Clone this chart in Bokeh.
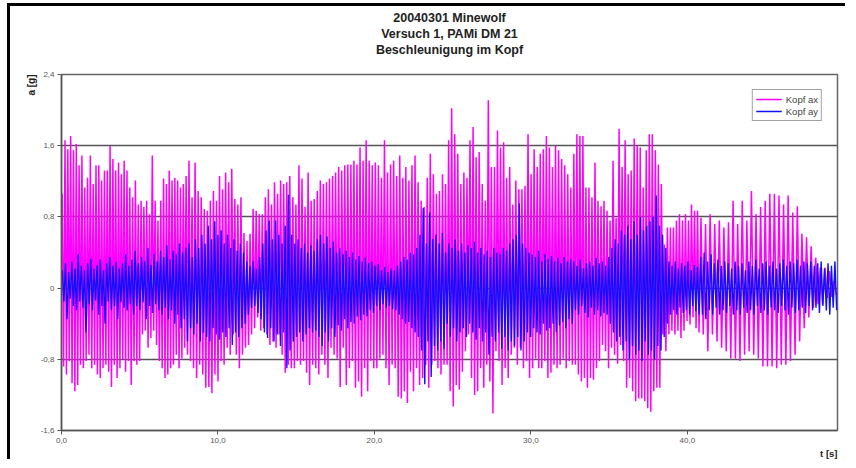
from bokeh.plotting import figure
from bokeh.models import Range1d, FixedTicker, Title, Legend
from bokeh.embed import file_html
from bokeh.resources import INLINE

# time boundaries of the read-off sections (s)
section_bounds = [0.0, 8.1, 16.3, 24.5, 32.7, 40.8, 49.6]

# Kopf ax (magenta): successive maxima / minima per section (g)
ax_max_s1 = [1.06, 1.66, 1.56, 1.71, 1.55, 1.62, 1.38, 1.49, 1.13, 1.24, 1.49, 1.17, 1.38, 1.38, 1.21,
             1.32, 1.32, 1.60, 1.45, 1.32, 1.41, 1.28, 1.43, 1.32, 1.13, 1.02, 1.21, 0.94, 0.98, 0.91,
             0.98, 0.83, 1.49, 0.98, 0.76, 0.98, 1.23, 1.17, 1.32, 1.21, 1.24, 1.21, 1.13, 1.17, 1.26]
ax_min_s1 = [-0.88, -0.97, -0.82, -1.07, -1.16, -1.09, -0.86, -0.90, -0.82, -0.75, -0.90, -0.86, -0.97,
             -1.01, -0.90, -0.86, -0.94, -1.11, -0.86, -1.01, -0.90, -0.80, -0.94, -0.82, -1.09, -0.82,
             -0.86, -0.82, -0.52, -0.48, -0.67, -0.56, -0.48, -0.64, -0.82, -0.90, -1.01, -0.97, -0.90,
             -0.86, -0.75, -0.90, -0.79, -0.67, -0.75]
ax_max_s2 = [1.43, 1.02, 1.41, 1.09, 1.02, 0.89, 0.87, 0.98, 1.09, 0.98, 1.26, 1.11, 1.30, 1.19, 1.34,
             1.00, 0.94, 1.02, 0.62, 0.53, 0.61, 0.89, 0.87, 0.83, 0.83, 1.02, 1.11, 0.94, 1.19, 1.06,
             1.21, 1.17, 1.19, 1.26, 1.02, 0.94, 1.38, 1.23, 0.91, 1.30, 0.98, 1.00]
ax_min_s2 = [-0.82, -0.90, -1.01, -0.86, -0.97, -1.12, -1.11, -1.18, -0.97, -1.05, -0.82, -0.86, -0.67,
             -0.75, -0.52, -0.75, -0.90, -0.75, -0.67, -0.64, -0.52, -0.45, -0.33, -0.48, -0.45, -0.52,
             -0.64, -0.60, -0.67, -0.52, -0.75, -0.95, -0.86, -0.90, -0.90, -0.82, -0.86, -0.82, -0.95,
             -1.09, -0.86, -0.90]
ax_max_s3 = [1.09, 1.21, 1.17, 1.19, 1.23, 1.26, 1.30, 1.36, 1.32, 1.38, 1.39, 1.39, 1.43, 1.39, 1.58,
             1.43, 1.66, 1.43, 1.38, 1.41, 1.38, 1.24, 1.66, 1.30, 1.39, 1.43, 1.26, 1.49, 1.24, 1.36,
             1.21, 1.38, 1.49, 1.19, 0.98, 0.91, 1.24, 1.51, 1.28, 1.06, 1.09, 1.28]
ax_min_s3 = [-0.97, -0.75, -0.86, -1.01, -0.67, -0.75, -0.79, -1.11, -0.67, -1.09, -0.90, -0.82, -1.12,
             -1.05, -1.22, -0.90, -1.16, -0.82, -0.90, -0.90, -0.79, -0.75, -0.90, -1.09, -0.86, -0.90,
             -1.22, -1.24, -1.16, -1.29, -0.94, -1.16, -0.90, -1.09, -1.01, -0.86, -1.12, -0.86, -0.82,
             -0.90, -0.97, -0.86]
ax_max_s4 = [1.17, 1.66, 2.02, 1.73, 1.51, 1.17, 1.30, 1.24, 1.66, 1.81, 1.47, 1.53, 1.17, 0.98, 2.11,
             1.36, 1.36, 1.77, 1.58, 1.64, 1.24, 1.36, 0.94, 1.21, 1.11, 1.11, 1.15, 1.73, 1.28, 1.56,
             1.36, 1.51, 1.56, 1.71, 1.58, 1.36, 1.60, 1.55, 1.45, 1.38, 1.28, 1.13]
ax_min_s4 = [-0.86, -1.16, -1.33, -1.09, -1.14, -0.94, -0.71, -0.52, -1.01, -1.20, -1.16, -0.90, -1.12,
             -0.86, -1.05, -1.41, -0.71, -0.82, -1.09, -0.90, -1.01, -0.75, -0.67, -0.86, -0.67, -0.90,
             -0.82, -1.01, -0.90, -0.79, -0.90, -0.90, -0.82, -1.01, -0.95, -0.86, -0.90, -0.86, -0.79,
             -0.90, -0.82, -0.86]
ax_max_s5 = [1.51, 1.73, 1.71, 1.71, 1.13, 1.13, 1.02, 1.41, 0.98, 0.92, 0.98, 0.87, 0.76, 1.43, 0.79,
             1.79, 1.36, 1.66, 1.28, 1.32, 1.68, 1.60, 1.58, 1.13, 1.55, 1.73, 1.73, 1.55, 1.39, 1.17,
             0.49, 0.68, 0.68, 0.68, 0.76, 0.83, 0.76, 0.83, 0.76, 0.94, 0.87, 0.87]
ax_min_s5 = [-0.86, -0.97, -1.05, -1.01, -1.12, -1.01, -1.03, -0.90, -0.82, -0.64, -0.71, -0.90, -0.67,
             -0.75, -0.85, -0.64, -0.82, -1.12, -1.01, -1.16, -1.27, -1.24, -1.24, -1.27, -1.35, -1.39,
             -1.16, -1.12, -1.12, -0.52, -0.71, -0.52, -0.48, -0.52, -0.48, -0.56, -0.48, -0.37, -0.41,
             -0.33, -0.45, -0.50]
ax_max_s6 = [0.79, 0.72, 0.83, 0.72, 0.76, 0.68, 0.74, 0.98, 0.72, 0.98, 0.76, 1.09, 0.83, 0.91, 0.98,
             1.06, 1.06, 1.04, 0.94, 1.04, 0.85, 0.92, 0.61, 0.57, 0.47, 0.34, 0.23, 0.23, 0.19, 0.08]
ax_min_s6 = [-0.52, -0.71, -0.52, -0.60, -0.67, -0.71, -0.79, -0.79, -0.82, -0.75, -0.71, -0.75, -0.79,
             -0.88, -0.88, -0.88, -0.90, -0.86, -0.86, -0.82, -0.75, -0.60, -0.45, -0.33, -0.22, -0.18,
             -0.18, -0.11, -0.10, -0.08]

# Kopf ay (blue): successive maxima / minima per section (g)
ay_max_s1 = [0.20, 0.28, 0.18, 0.30, 0.22, 0.38, 0.25, 0.20, 0.28, 0.33, 0.22, 0.26, 0.32, 0.20, 0.28,
             0.35, 0.25, 0.30, 0.22, 0.28, 0.38, 0.25, 0.32, 0.42, 0.28, 0.35, 0.30, 0.45, 0.26, 0.38,
             0.30, 0.42, 0.35, 0.48, 0.32, 0.42, 0.38, 0.50, 0.40, 0.45]
ay_min_s1 = [-0.15, -0.35, -0.12, -0.20, -0.25, -0.15, -0.22, -0.50, -0.18, -0.25, -0.14, -0.30, -0.20,
             -0.40, -0.15, -0.25, -0.20, -0.35, -0.16, -0.22, -0.25, -0.18, -0.30, -0.20, -0.25, -0.16,
             -0.35, -0.20, -0.28, -0.18, -0.25, -0.30, -0.22, -0.35, -0.25, -0.40, -0.30, -0.45, -0.35,
             -0.60]
ay_max_s2 = [0.50, 0.35, 0.55, 0.45, 0.60, 0.50, 0.70, 0.55, 0.75, 0.60, 0.65, 0.50, 0.60, 0.45, 0.55,
             0.42, 0.50, 0.40, 0.30, 0.25, 0.30, 0.22, 0.35, 0.50, 0.65, 0.76, 0.55, 0.76, 0.60, 0.50,
             0.70, 1.05, 0.60, 0.50, 0.55, 0.45, 0.50, 0.40, 0.48, 0.42]
ay_min_s2 = [-0.45, -0.52, -0.40, -0.60, -0.50, -0.55, -0.60, -0.45, -0.52, -0.58, -0.50, -0.55, -0.45,
             -0.64, -0.50, -0.55, -0.45, -0.40, -0.30, -0.22, -0.20, -0.28, -0.35, -0.50, -0.56, -0.45,
             -0.60, -0.52, -0.65, -0.50, -0.90, -0.70, -0.60, -0.55, -0.50, -0.60, -0.52, -0.45, -0.50,
             -0.48]
ay_max_s3 = [0.55, 0.60, 0.50, 0.58, 0.45, 0.52, 0.40, 0.45, 0.38, 0.42, 0.35, 0.40, 0.32, 0.36, 0.30,
             0.34, 0.28, 0.30, 0.25, 0.27, 0.20, 0.24, 0.18, 0.22, 0.20, 0.25, 0.30, 0.35, 0.32, 0.40,
             0.38, 0.45, 0.60, 0.90, 0.50, 0.85, 0.55, 0.60, 0.50, 0.62]
ay_min_s3 = [-0.55, -0.65, -0.50, -0.60, -0.45, -0.55, -0.42, -0.48, -0.35, -0.45, -0.38, -0.40, -0.32,
             -0.36, -0.30, -0.32, -0.25, -0.28, -0.20, -0.25, -0.18, -0.22, -0.20, -0.24, -0.25, -0.30,
             -0.35, -0.40, -0.38, -0.45, -0.50, -0.55, -0.70, -1.08, -0.60, -1.00, -0.65, -0.70, -0.60,
             -0.68]
ay_max_s4 = [0.40, 0.50, 0.45, 0.55, 0.42, 0.50, 0.40, 0.48, 0.45, 0.52, 0.40, 0.45, 0.38, 0.42, 0.35,
             0.45, 0.40, 0.38, 0.45, 0.42, 0.50, 0.55, 0.60, 0.95, 0.50, 0.45, 0.40, 0.38, 0.35, 0.42,
             0.30, 0.38, 0.32, 0.36, 0.30, 0.34, 0.28, 0.35, 0.30, 0.32]
ay_min_s4 = [-0.40, -0.55, -0.45, -0.60, -0.50, -0.45, -0.55, -0.40, -0.50, -0.58, -0.45, -0.60, -0.50,
             -0.75, -0.55, -0.60, -0.50, -0.68, -0.55, -0.70, -0.60, -0.65, -0.55, -0.70, -0.60, -0.50,
             -0.55, -0.45, -0.50, -0.52, -0.40, -0.48, -0.45, -0.40, -0.50, -0.42, -0.38, -0.45, -0.35,
             -0.40]
ay_max_s5 = [0.30, 0.25, 0.32, 0.22, 0.28, 0.30, 0.25, 0.34, 0.28, 0.30, 0.25, 0.35, 0.45, 0.55, 0.50,
             0.65, 0.60, 0.70, 0.55, 0.75, 0.60, 0.80, 0.65, 0.70, 0.75, 0.80, 1.04, 0.70, 0.60, 0.45,
             0.30, 0.25, 0.30, 0.22, 0.28, 0.25, 0.30, 0.20, 0.26, 0.24]
ay_min_s5 = [-0.25, -0.30, -0.20, -0.28, -0.33, -0.22, -0.30, -0.25, -0.32, -0.28, -0.30, -0.40, -0.50,
             -0.60, -0.55, -0.70, -0.60, -0.80, -0.65, -0.75, -0.70, -0.82, -0.60, -0.75, -0.70, -0.80,
             -0.65, -0.70, -0.55, -0.40, -0.30, -0.25, -0.30, -0.22, -0.28, -0.25, -0.30, -0.20, -0.26,
             -0.30]
ay_max_s6 = [0.35, 0.40, 0.30, 0.38, 0.28, 0.32, 0.25, 0.30, 0.28, 0.22, 0.30, 0.25, 0.28, 0.20, 0.30,
             0.25, 0.32, 0.22, 0.28, 0.30, 0.25, 0.30, 0.22, 0.28, 0.32, 0.25, 0.30, 0.28, 0.32, 0.25,
             0.30, 0.28, 0.30, 0.25, 0.28, 0.30, 0.22, 0.28, 0.25, 0.30]
ay_min_s6 = [-0.30, -0.35, -0.25, -0.30, -0.22, -0.30, -0.25, -0.28, -0.20, -0.30, -0.25, -0.30, -0.22,
             -0.28, -0.25, -0.30, -0.20, -0.28, -0.25, -0.30, -0.22, -0.25, -0.28, -0.20, -0.25, -0.30,
             -0.22, -0.28, -0.25, -0.22, -0.28, -0.20, -0.25, -0.22, -0.28, -0.20, -0.25, -0.30, -0.22,
             -0.25]

y_ticks = [-1.6, -0.8, 0.0, 0.8, 1.6, 2.4]
y_tick_labels = ["-1,6", "-0,8", "0", "0,8", "1,6", "2,4"]
x_ticks = [0, 10, 20, 30, 40]
x_tick_labels = ["0,0", "10,0", "20,0", "30,0", "40,0"]

ax_sections = [(ax_max_s1, ax_min_s1), (ax_max_s2, ax_min_s2), (ax_max_s3, ax_min_s3),
               (ax_max_s4, ax_min_s4), (ax_max_s5, ax_min_s5), (ax_max_s6, ax_min_s6)]
ay_sections = [(ay_max_s1, ay_min_s1), (ay_max_s2, ay_min_s2), (ay_max_s3, ay_min_s3),
               (ay_max_s4, ay_min_s4), (ay_max_s5, ay_min_s5), (ay_max_s6, ay_min_s6)]


def build(sections):
    ts, vs = [], []
    for k, (mx, mn) in enumerate(sections):
        t0, t1 = section_bounds[k], section_bounds[k + 1]
        n = min(len(mx), len(mn))
        dt = (t1 - t0) / n
        for i in range(n):
            ts.append(t0 + (i + 0.25) * dt)
            vs.append(mx[i])
            ts.append(t0 + (i + 0.75) * dt)
            vs.append(mn[i])
    return ts, vs


ax_t, ax_v = build(ax_sections)
ay_t, ay_v = build(ay_sections)

p = figure(width=838, height=456, output_backend="svg", toolbar_location=None,
           x_range=Range1d(0, 49.6), y_range=Range1d(-1.6, 2.4),
           min_border_left=51, min_border_right=11, min_border_top=68, min_border_bottom=32)
p.styles = {"border-left": "3px solid #000000", "border-top": "3px solid #000000",
            "margin-left": "7px", "margin-top": "3px"}
p.background_fill_color = "white"
p.border_fill_color = "white"
p.outline_line_color = "#666666"
p.outline_line_width = 1.5

FONT = "'Liberation Sans Narrow', 'Liberation Sans', sans-serif"
TFONT = "Liberation Sans"
# above panel: added items stack outward from the frame, p.title outermost
p.title.text = "20040301 Minewolf"
p.title.align = "center"
p.title.text_font = FONT
p.title.text_font_size = "12.5px"
p.title.text_font_style = "bold"
p.title.text_color = "#222222"
p.title.standoff = 0
p.title.offset = 0
p.add_layout(Title(text=" ", text_font=TFONT, text_font_size="14px", standoff=0), "above")
p.add_layout(Title(text="Beschleunigung im Kopf", align="center", text_font=FONT,
                   text_font_size="12.5px", text_font_style="bold", text_color="#222222",
                   standoff=0), "above")
p.add_layout(Title(text="Versuch 1, PAMi DM 21", align="center", text_font=FONT,
                   text_font_size="12.5px", text_font_style="bold", text_color="#222222",
                   standoff=0), "above")

p.add_layout(Title(text="t [s]", align="right", text_font=TFONT, text_font_size="9.5px",
                   text_font_style="bold", text_color="#222222", standoff=0), "below")
p.add_layout(Title(text="a [g]", align="right", text_font=TFONT, text_font_size="10px",
                   text_font_style="bold", text_color="#222222", standoff=2), "left")

r_ax = p.line(ax_t, ax_v, line_color="#ff00ff", line_width=1.5)
r_ay = p.line(ay_t, ay_v, line_color="#1010ff", line_width=1.4)

legend = Legend(items=[("Kopf ax", [r_ax]), ("Kopf ay", [r_ay])], location="top_right")
legend.label_text_font = FONT
legend.label_text_font_size = "9.5px"
legend.label_text_color = "#444444"
legend.border_line_color = "#444444"
legend.border_line_width = 1
legend.background_fill_alpha = 1
legend.padding = 3
legend.spacing = 0
legend.margin = 15
legend.glyph_width = 26
legend.glyph_height = 12
legend.label_height = 12
legend.label_standoff = 4
p.add_layout(legend)

p.yaxis.ticker = FixedTicker(ticks=y_ticks)
p.yaxis.major_label_overrides = {t: l for t, l in zip(y_ticks, y_tick_labels)}
p.xaxis.ticker = FixedTicker(ticks=x_ticks)
p.xaxis.major_label_overrides = {t: l for t, l in zip(x_ticks, x_tick_labels)}
for ax in (p.xaxis[0], p.yaxis[0]):
    ax.axis_line_color = "#555555"
    ax.axis_line_width = 1.5
    ax.major_tick_line_color = "#555555"
    ax.major_tick_in = 0
    ax.major_tick_out = 4
    ax.minor_tick_line_color = None
    ax.major_label_text_font = TFONT
    ax.major_label_text_font_size = "8px"
    ax.major_label_text_color = "#555555"
    ax.major_label_standoff = 3

p.xgrid.visible = False
p.ygrid.ticker = FixedTicker(ticks=y_ticks)
p.ygrid.grid_line_color = "#555555"
p.ygrid.grid_line_width = 1.3

open("out.html", "w").write(file_html(p, INLINE))
